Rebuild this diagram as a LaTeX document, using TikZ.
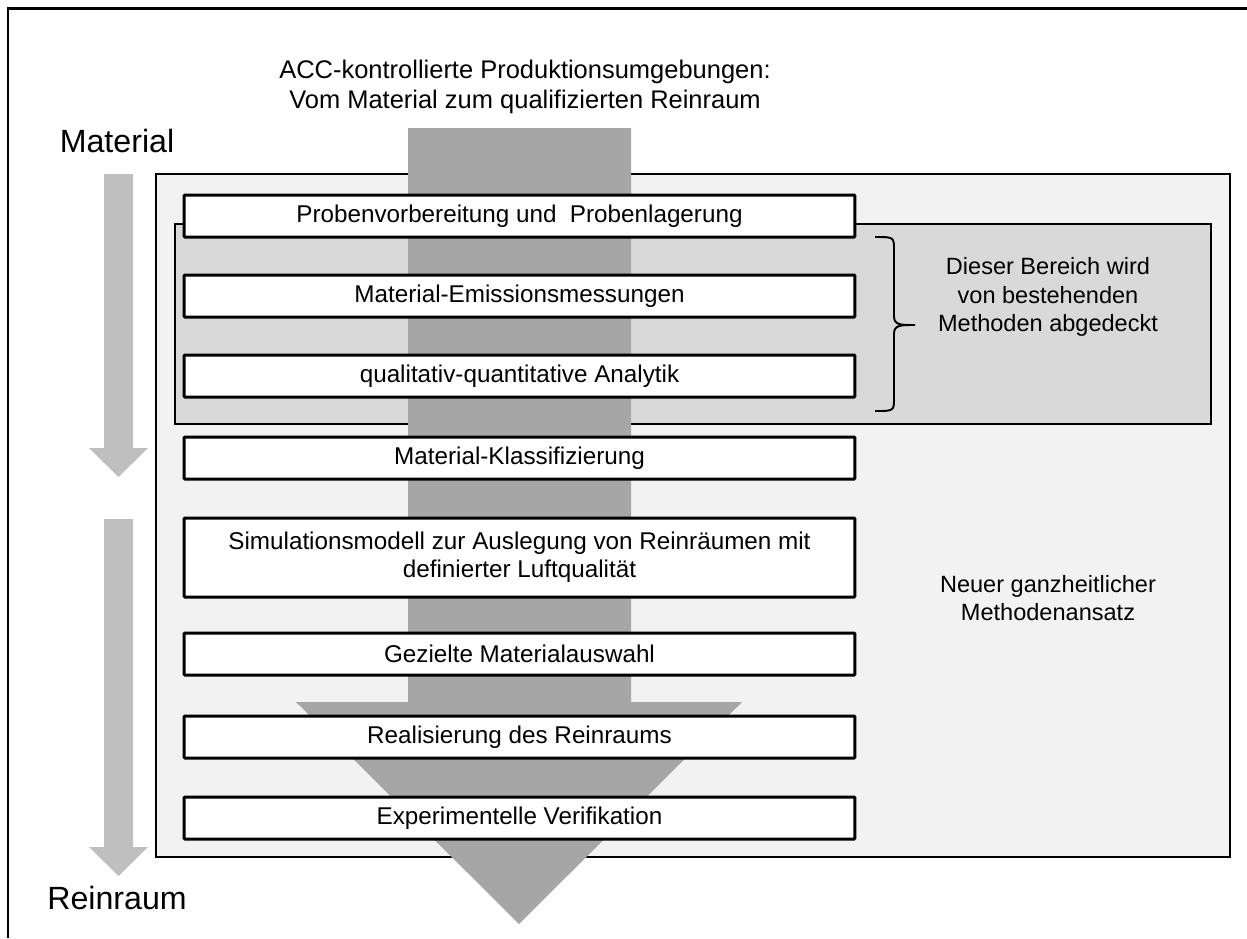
\documentclass[tikz,border=0pt]{standalone}
\usepackage{fontspec}
\setmainfont{Liberation Sans}
\usepackage{tikz}

\definecolor{lightfill}{HTML}{F2F2F2}
\definecolor{darkfill}{HTML}{D9D9D9}
\definecolor{flowgray}{HTML}{A6A6A6}
\definecolor{sidegray}{HTML}{BFBFBF}

\tikzset{
    stepbox/.style={draw, line width=1.7pt, fill=white, rounded corners=0.5pt,
        minimum width=13.42cm, minimum height=0.84cm, inner sep=0pt, align=center,
        font=\fontsize{13.8}{16}\selectfont},
    sidetext/.style={align=center, font=\fontsize{13.4}{16.4}\selectfont},
}

\begin{document}
\begin{tikzpicture}[x=0.02cm, y=-0.02cm]
        \useasboundingbox (0,0) rectangle (1247,938);
        \draw [line width=1.7pt] (8,938) -- (8,8) -- (1247,8);

        \node (title) [align=center, font=\fontsize{14.5}{17}\selectfont] at (525,87)
            {ACC-kontrollierte Produktionsumgebungen:\\Vom Material zum qualifizierten Reinraum};
        \node (mat) [font=\fontsize{18.3}{20}\selectfont] at (117,141) {Material};
        \node (rein) [font=\fontsize{18.3}{20}\selectfont] at (117,898) {Reinraum};

        % side arrows
        \fill [sidegray] (104,174) -- (133,174) -- (133,448) -- (148,448) -- (118.5,477)
            -- (89,448) -- (104,448) -- cycle;
        \fill [sidegray] (104,519) -- (133,519) -- (133,847) -- (148,847) -- (118.5,876)
            -- (89,847) -- (104,847) -- cycle;

        % areas
        \draw [line width=0.85pt, fill=lightfill] (156,174) rectangle (1230,857);
        \draw [line width=0.85pt, fill=darkfill] (175,224) rectangle (1211,424);

        % main flow
        \fill [flowgray] (408,128) -- (631,128) -- (631,702) -- (742,702) -- (519,924)
            -- (296,702) -- (408,702) -- cycle;

        \node (prob) [stepbox] at (519.5,216) {Probenvorbereitung und \ Probenlagerung};
        \node (emis) [stepbox] at (519.5,296) {Material-Emissionsmessungen};
        \node (anal) [stepbox] at (519.5,376) {qualitativ-quantitative Analytik};
        \node (klass) [stepbox] at (519.5,458) {Material-Klassifizierung};
        \node (sim) [stepbox, minimum height=1.58cm] at (519.5,557.5)
            {Simulationsmodell zur Auslegung von Reinräumen mit\\definierter Luftqualität};
        \node (gez) [stepbox] at (519.5,654) {Gezielte Materialauswahl};
        \node (real) [stepbox] at (519.5,737) {Realisierung des Reinraums};
        \node (exp) [stepbox] at (519.5,818) {Experimentelle Verifikation};

        % bracket
        \draw [line width=1.1pt] (875,237) .. controls (894,237) .. (894,250) -- (894,316)
            .. controls (894,325) and (900,325) .. (915,325)
            .. controls (900,325) and (894,325) .. (894,334) -- (894,398)
            .. controls (894,411) .. (875,411);

        \node (alt) [sidetext] at (1048,297) {Dieser Bereich wird\\von bestehenden\\Methoden abgedeckt};
        \node (neu) [sidetext] at (1048,598) {Neuer ganzheitlicher\\Methodenansatz};
\end{tikzpicture}
\end{document}
